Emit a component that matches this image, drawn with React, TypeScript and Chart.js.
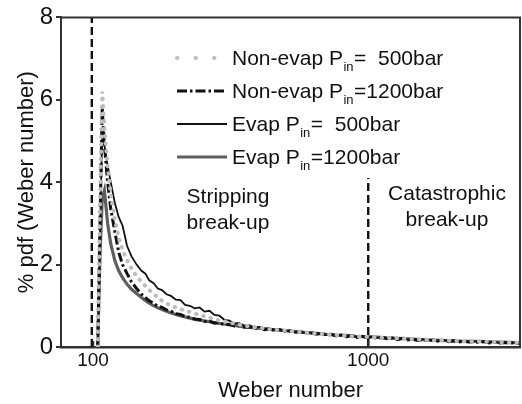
import { useEffect, useRef } from "react";
import { Chart, registerables } from "chart.js";

Chart.register(...registerables);

const FONT = "'Liberation Sans', Arial, Helvetica, sans-serif";

// Weber number grid for the smoother series
const weber = [
  104, 106, 108, 110, 113, 116, 120, 124, 128, 133,
  138, 144, 150, 157, 164, 172, 180, 190, 200, 212,
  225, 240, 255, 272, 290, 310, 330, 355, 380, 410,
  440, 475, 510, 550, 600, 650, 700, 760, 830, 900,
  980, 1070, 1170, 1280, 1400, 1530, 1680, 1840, 2020, 2220,
  2440, 2680, 2950, 3250, 3560,
];

// Finer Weber number grid for the noisier black series
const weberFine = [
  104, 106, 108, 110, 113, 116, 120, 124, 128, 133, 138, 144, 150,
  155, 160, 166, 172, 178, 185, 192, 200, 208, 216,
  225, 234, 244, 254, 265, 276, 288, 300, 313, 326,
  340, 355, 370, 386, 403, 420, 438, 457, 477, 498,
  520, 543, 567, 592, 618, 645, 673, 702, 733, 765,
  798, 833, 869, 907, 947, 988, 1031, 1076, 1123, 1172,
  1223, 1276, 1332, 1390, 1451, 1514, 1580, 1649, 1721, 1796,
  1874, 1956, 2041, 2130, 2223, 2320, 2421, 2527, 2637, 2752,
  2872, 2997, 3128, 3264, 3406, 3560,
];

// % pdf values — Non-evap P_in = 500 bar (on weber)
const nonEvap500 = [
  0, 3.4, 6.2, 5.3, 4.4, 3.7, 3.1, 2.65, 2.35, 2.1,
  1.9, 1.72, 1.58, 1.44, 1.32, 1.2, 1.1, 1.02, 0.96, 0.9,
  0.85, 0.79, 0.74, 0.69, 0.64, 0.6, 0.56, 0.52, 0.49, 0.46,
  0.43, 0.41, 0.39, 0.37, 0.34, 0.32, 0.31, 0.29, 0.27, 0.26,
  0.25, 0.23, 0.22, 0.21, 0.2, 0.18, 0.17, 0.16, 0.15, 0.14,
  0.14, 0.13, 0.12, 0.11, 0.11,
];

// Non-evap P_in = 1200 bar (on weberFine)
const nonEvap1200 = [
  0, 3.0, 5.8, 4.9, 4.0, 3.35, 2.8, 2.3, 2.0, 1.78, 1.58, 1.42, 1.28,
  1.2, 1.12, 1.06, 0.99, 0.96, 0.9, 0.87, 0.81, 0.79, 0.74,
  0.72, 0.68, 0.67, 0.62, 0.63, 0.58, 0.59, 0.54, 0.55, 0.51,
  0.52, 0.48, 0.49, 0.45, 0.47, 0.42, 0.44, 0.4, 0.42, 0.38,
  0.39, 0.36, 0.37, 0.33, 0.35, 0.31, 0.33, 0.29, 0.31, 0.27,
  0.29, 0.25, 0.28, 0.23, 0.26, 0.23, 0.24, 0.21, 0.23, 0.2,
  0.22, 0.18, 0.21, 0.17, 0.19, 0.16, 0.18, 0.15, 0.17, 0.14,
  0.16, 0.13, 0.15, 0.12, 0.14, 0.12, 0.13, 0.11, 0.13, 0.1,
  0.12, 0.1, 0.11, 0.09, 0.11, 0.09,
];

// Evap P_in = 500 bar (on weberFine)
const evap500 = [
  0, 2.6, 5.3, 4.9, 4.4, 4.0, 3.5, 3.15, 2.95, 2.45, 2.2, 2.0, 1.85,
  1.78, 1.62, 1.55, 1.42, 1.38, 1.28, 1.24, 1.15, 1.14, 1.02,
  1.0, 0.94, 0.96, 0.86, 0.88, 0.78, 0.76, 0.66, 0.64, 0.57,
  0.58, 0.52, 0.53, 0.47, 0.49, 0.44, 0.45, 0.41, 0.43, 0.38,
  0.4, 0.36, 0.37, 0.33, 0.35, 0.31, 0.33, 0.29, 0.31, 0.27,
  0.29, 0.26, 0.28, 0.24, 0.26, 0.23, 0.25, 0.22, 0.24, 0.21,
  0.22, 0.19, 0.21, 0.18, 0.2, 0.17, 0.19, 0.16, 0.18, 0.15,
  0.17, 0.14, 0.16, 0.13, 0.15, 0.12, 0.14, 0.12, 0.13, 0.11,
  0.13, 0.1, 0.12, 0.1, 0.11, 0.09,
];

// Evap P_in = 1200 bar (on weber)
const evap1200 = [
  0, 2.2, 3.6, 3.8, 3.0, 2.5, 2.1, 1.85, 1.68, 1.52,
  1.4, 1.3, 1.2, 1.1, 1.02, 0.95, 0.9, 0.84, 0.79, 0.74,
  0.7, 0.66, 0.63, 0.6, 0.57, 0.54, 0.52, 0.49, 0.47, 0.45,
  0.43, 0.41, 0.39, 0.37, 0.35, 0.33, 0.31, 0.29, 0.28, 0.26,
  0.25, 0.24, 0.22, 0.21, 0.2, 0.18, 0.17, 0.16, 0.15, 0.14,
  0.14, 0.13, 0.12, 0.11, 0.1,
];

// Regime boundaries (Weber number) and the height of their dashed lines
const boundaryWeber = [99, 1000];
const boundaryTop = [8, 4.1];

const xTickValues = [100, 1000];
const yTickValues = [0, 2, 4, 6, 8];

const legendRows = [
  { pre: "Non-evap P", post: "=  500bar" },
  { pre: "Non-evap P", post: "=1200bar" },
  { pre: "Evap P", post: "=  500bar" },
  { pre: "Evap P", post: "=1200bar" },
];

const seriesStyles = [
  { color: "#bdbdbd", width: 4, dash: [0.5, 7], legendDash: [0.5, 18], cap: "round" as CanvasLineCap },
  { color: "#111111", width: 3, dash: [9, 3, 2.5, 3], legendDash: [10, 3, 2.5, 3], cap: "butt" as CanvasLineCap },
  { color: "#111111", width: 1.8, dash: [] as number[], legendDash: [] as number[], cap: "butt" as CanvasLineCap },
  { color: "#5e5e5e", width: 3.2, dash: [] as number[], legendDash: [] as number[], cap: "butt" as CanvasLineCap },
];

const toPoints = (xs: number[], ys: number[]) => xs.map((w, i) => ({ x: w, y: ys[i] }));

export default function App() {
  const ref = useRef<HTMLCanvasElement | null>(null);

  useEffect(() => {
    if (!ref.current) return;
    const series = [
      toPoints(weber, nonEvap500),
      toPoints(weberFine, nonEvap1200),
      toPoints(weberFine, evap500),
      toPoints(weber, evap1200),
    ];
    const orders = [1, 3, 2, 4];
    const datasets: any[] = series.map((pts, i) => ({
      label: legendRows[i].pre + "in" + legendRows[i].post,
      data: pts,
      borderColor: seriesStyles[i].color,
      borderWidth: seriesStyles[i].width,
      borderDash: seriesStyles[i].dash,
      borderCapStyle: seriesStyles[i].cap,
      pointRadius: 0,
      showLine: true,
      tension: 0,
      fill: false,
      order: orders[i],
    }));
    boundaryWeber.forEach((w, i) => {
      datasets.push({
        label: "boundary" + i,
        data: [
          { x: w, y: 0 },
          { x: w, y: boundaryTop[i] },
        ],
        borderColor: "#111",
        borderWidth: 2.4,
        borderDash: [8, 4],
        pointRadius: 0,
        showLine: true,
        fill: false,
        order: 5,
      });
    });

    const overlay = {
      id: "overlay",
      afterDraw(chart: any) {
        const { ctx, chartArea, scales } = chart;
        const { left, right, top, bottom } = chartArea;
        ctx.save();
        // frame
        ctx.strokeStyle = "#333";
        ctx.lineWidth = 2;
        ctx.beginPath();
        ctx.moveTo(left, top);
        ctx.lineTo(right, top);
        ctx.lineTo(right, bottom);
        ctx.stroke();
        // inward x ticks
        ctx.beginPath();
        xTickValues.forEach((v) => {
          const px = Math.round(scales.x.getPixelForValue(v)) + 0.5;
          ctx.moveTo(px, bottom);
          ctx.lineTo(px, bottom - 6);
        });
        ctx.lineWidth = 1.5;
        ctx.stroke();

        // legend
        const sx0 = 177;
        const sx1 = 227;
        const tx = 232;
        const rowsY = [58, 91, 124, 157];
        rowsY.forEach((y, i) => {
          const st = seriesStyles[i];
          ctx.beginPath();
          ctx.strokeStyle = st.color;
          ctx.lineWidth = st.width;
          ctx.setLineDash(st.legendDash);
          ctx.lineCap = st.cap;
          ctx.moveTo(sx0, y);
          ctx.lineTo(sx1, y);
          ctx.stroke();
          ctx.setLineDash([]);
          ctx.lineCap = "butt";

          ctx.fillStyle = "#111";
          ctx.textBaseline = "middle";
          ctx.textAlign = "left";
          ctx.font = `21px ${FONT}`;
          const row = legendRows[i];
          ctx.fillText(row.pre, tx, y + 1);
          let x = tx + ctx.measureText(row.pre).width;
          ctx.font = `13px ${FONT}`;
          ctx.fillText("in", x + 0.5, y + 9);
          x += ctx.measureText("in").width + 1;
          ctx.font = `21px ${FONT}`;
          ctx.fillText(row.post, x, y + 1);
        });

        // regime annotations
        ctx.font = `21px ${FONT}`;
        ctx.textAlign = "center";
        ctx.fillStyle = "#111";
        ctx.fillText("Stripping", 228, 197);
        ctx.fillText("break-up", 228, 223);
        ctx.fillText("Catastrophic", 447, 194);
        ctx.fillText("break-up", 447, 220);
        ctx.restore();
      },
    };

    const chart = new Chart(ref.current, {
      type: "scatter",
      data: { datasets },
      options: {
        animation: false,
        responsive: false,
        devicePixelRatio: 1,
        layout: { padding: { top: 14, right: 2, left: 0, bottom: 0 } },
        plugins: {
          legend: { display: false },
          tooltip: { enabled: false },
        },
        scales: {
          x: {
            type: "logarithmic",
            min: 76.5,
            max: 3560,
            position: "bottom",
            afterBuildTicks: (scale: any) => {
              scale.ticks = xTickValues.map((v) => ({ value: v }));
            },
            afterFit: (scale: any) => {
              scale.height = 57;
            },
            ticks: {
              autoSkip: false,
              maxRotation: 0,
              color: "#111",
              font: { family: FONT, size: 19 },
              padding: 2,
              callback: (v: any) => String(v),
            },
            grid: { display: false, drawTicks: false },
            border: { display: true, color: "#333", width: 2.5 },
            title: {
              display: true,
              text: "Weber number",
              color: "#111",
              font: { family: FONT, size: 22 },
              padding: { top: 0, bottom: 0 },
            },
          },
          y: {
            type: "linear",
            min: 0,
            max: 8,
            afterBuildTicks: (scale: any) => {
              scale.ticks = yTickValues.map((v) => ({ value: v }));
            },
            afterFit: (scale: any) => {
              scale.width = 61;
            },
            ticks: {
              color: "#111",
              font: { family: FONT, size: 24 },
              padding: 3,
            },
            grid: {
              drawOnChartArea: false,
              drawTicks: true,
              tickLength: 5,
              color: "#333",
              lineWidth: 2,
            },
            border: { display: true, color: "#333", width: 2 },
            title: {
              display: true,
              text: "% pdf (Weber number)",
              color: "#111",
              font: { family: FONT, size: 22 },
              padding: { top: 14, bottom: 0 },
            },
          },
        },
      },
      plugins: [overlay],
    });
    return () => chart.destroy();
  }, []);

  return (
    <div style={{ position: "absolute", left: 0, top: 0, width: 522, height: 404, background: "#fff" }}>
      <canvas ref={ref} width={522} height={404} style={{ display: "block" }} />
    </div>
  );
}
